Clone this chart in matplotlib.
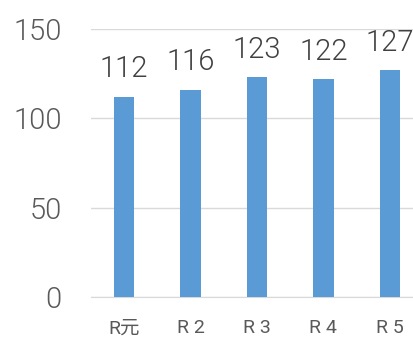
import matplotlib
matplotlib.use("Agg")
import matplotlib.pyplot as plt

plt.rcParams['font.family'] = ['Roboto', 'Noto Sans CJK JP', 'DejaVu Sans']

categories = ["R元", "R 2", "R 3", "R 4", "R 5"]
values = [112, 116, 123, 122, 127]
y_ticks = [0, 50, 100, 150]

W, H = 413, 338
fig = plt.figure(figsize=(W / 100, H / 100), dpi=100)
ax = fig.add_axes([91 / W, (H - 297) / H, (423 - 91) / W, (297 - 29) / H])

x = range(len(categories))
ax.bar(x, values, width=0.31, color="#5B9BD5", zorder=3)
for xi, v in zip(x, values):
    ax.text(xi, v + 7.5, str(v), ha="center", va="bottom", fontsize=21,
            fontweight=300, color="#404040", clip_on=False)

ax.set_xlim(-0.5, len(categories) - 0.5)
ax.set_ylim(0, 150)
ax.set_yticks(y_ticks)
ax.set_xticks(list(x))
ax.set_xticklabels(categories)
ax.tick_params(axis="y", length=0, pad=21, labelsize=21, labelcolor="#595959")
ax.tick_params(axis="x", length=0, pad=16, labelsize=14, labelcolor="#595959")
for lbl in ax.get_yticklabels():
    lbl.set_fontweight(300)
ax.grid(axis="y", color="#d9d9d9", linewidth=1, zorder=0)
for s in ["top", "right", "left"]:
    ax.spines[s].set_visible(False)
ax.spines["bottom"].set_color("#d9d9d9")

fig.savefig("out.png", dpi=100)
